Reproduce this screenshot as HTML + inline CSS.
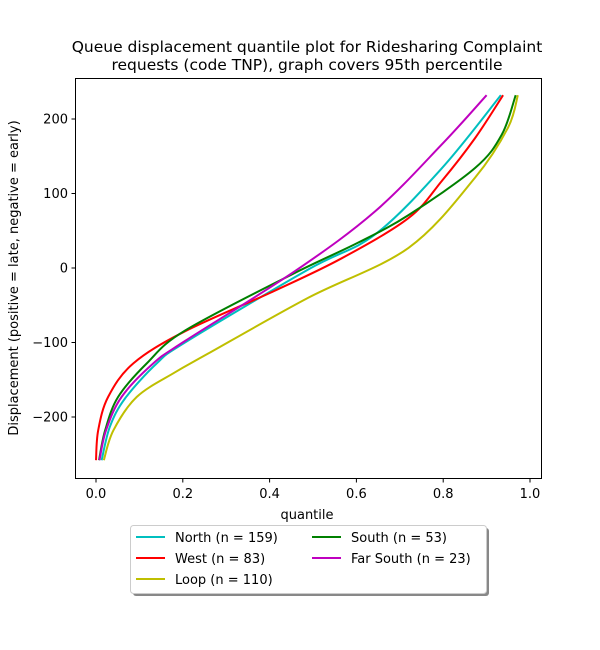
<!DOCTYPE html>
<html><head><meta charset="utf-8"><style>
body{margin:0;background:#fff;}
svg{display:block;font-family:"DejaVu Sans","Liberation Sans",sans-serif;}
</style></head><body>
<svg id="chart" width="600" height="650">
<text x="307" y="52" font-size="15.5" text-anchor="middle">Queue displacement quantile plot for Ridesharing Complaint</text>
<text x="307" y="70" font-size="15.5" text-anchor="middle">requests (code TNP), graph covers 95th percentile</text>
<g id="plot"></g>
<rect x="75.5" y="78.5" width="466" height="400" fill="none" stroke="#000" stroke-width="1"/>
<text x="307" y="519" font-size="13" text-anchor="middle">quantile</text>
<text transform="translate(18,278) rotate(-90)" font-size="13" text-anchor="middle">Displacement (positive = late, negative = early)</text>
<g>
<rect x="133" y="528" width="356" height="68" rx="3" fill="#888"/>
<rect x="130.5" y="525.5" width="356" height="68" rx="3" fill="#fff" stroke="#ccc"/>
<g id="legend"></g>
</g>
</svg>
<script>
const xTicks=[0,0.2,0.4,0.6,0.8,1.0];
const xTickLabels=["0.0","0.2","0.4","0.6","0.8","1.0"];
const yTicks=[-200,-100,0,100,200];
const yTickLabels=["\u2212200","\u2212100","0","100","200"];
const seriesNames=["North (n = 159)","West (n = 83)","Loop (n = 110)","South (n = 53)","Far South (n = 23)"];
const seriesColors=["#00bfbf","#ff0000","#bfbf00","#008000","#bf00bf"];
const northQ=[0.013,0.032,0.067,0.14,0.205,0.489,0.643,0.797,0.933];
const northV=[-258,-213,-175,-128,-100,-2,45,134,232];
const westQ=[0.0,0.005,0.028,0.086,0.205,0.41,0.566,0.72,0.797,0.873,0.938];
const westV=[-258,-218,-173,-128,-85,-31,13,67,117,174,232];
const loopQ=[0.018,0.04,0.094,0.182,0.258,0.489,0.72,0.873,0.949,0.972];
const loopV=[-258,-218,-173,-140,-115,-40,27,121,188,232];
const southQ=[0.007,0.021,0.051,0.117,0.205,0.45,0.604,0.72,0.873,0.935,0.967];
const southV=[-258,-218,-173,-128,-84,-9,34,71,134,179,232];
const farSouthQ=[0.008,0.023,0.059,0.132,0.205,0.459,0.643,0.797,0.90];
const farSouthV=[-258,-218,-173,-128,-98,-4,76,166,232];
const allQ=[northQ,westQ,loopQ,southQ,farSouthQ];
const allV=[northV,westV,loopV,southV,farSouthV];

const NS="http://www.w3.org/2000/svg";
const X=q=>96+q*434;
const Y=v=>268-v*0.745;
const plot=document.getElementById('plot');
function mk(tag,attrs,parent){const e=document.createElementNS(NS,tag);for(const k in attrs)e.setAttribute(k,attrs[k]);parent.appendChild(e);return e;}
xTicks.forEach((t,i)=>{
  const l=mk('line',{x1:X(t),x2:X(t),y1:478.5,y2:482.5,stroke:'#000'},plot);
  
  
  const tx=mk('text',{x:X(t),y:498,'font-size':13,'text-anchor':'middle'},plot);
  tx.textContent=xTickLabels[i];
  
  
});
yTicks.forEach((t,i)=>{
  const l=mk('line',{x1:71.5,x2:75.5,y1:Y(t),y2:Y(t),stroke:'#000'},plot);
  
  
  const tx=mk('text',{x:68,y:Y(t)+4.5,'font-size':13,'text-anchor':'end'},plot);
  tx.textContent=yTickLabels[i];
  
  
});
function pathFor(qs,vs){
  const p=qs.map((q,i)=>[X(q),Y(vs[i])]);
  let d='M'+p[0][0]+','+p[0][1];
  for(let i=0;i<p.length-1;i++){
    const p0=p[Math.max(0,i-1)],p1=p[i],p2=p[i+1],p3=p[Math.min(p.length-1,i+2)];
    const c1=[p1[0]+(p2[0]-p0[0])/6,p1[1]+(p2[1]-p0[1])/6];
    const c2=[p2[0]-(p3[0]-p1[0])/6,p2[1]-(p3[1]-p1[1])/6];
    d+=' C'+c1+' '+c2+' '+p2;
  }
  return d;
}
allQ.forEach((qs,i)=>{
  const pa=mk('path',{d:pathFor(qs,allV[i]),fill:'none',stroke:seriesColors[i],'stroke-width':2},plot);
  
  
});
const lg=document.getElementById('legend');
seriesNames.forEach((n,i)=>{
  const col=i<3?0:1,row=i<3?i:i-3;
  const x0=136+col*176,y0=537+row*21;
  const l=mk('line',{x1:x0,x2:x0+29,y1:y0,y2:y0,stroke:seriesColors[i],'stroke-width':2},lg);
  
  
  const t=mk('text',{x:x0+39,y:y0+5,'font-size':13},lg);
  t.textContent=n;
  
  
});
</script>
</body></html>
